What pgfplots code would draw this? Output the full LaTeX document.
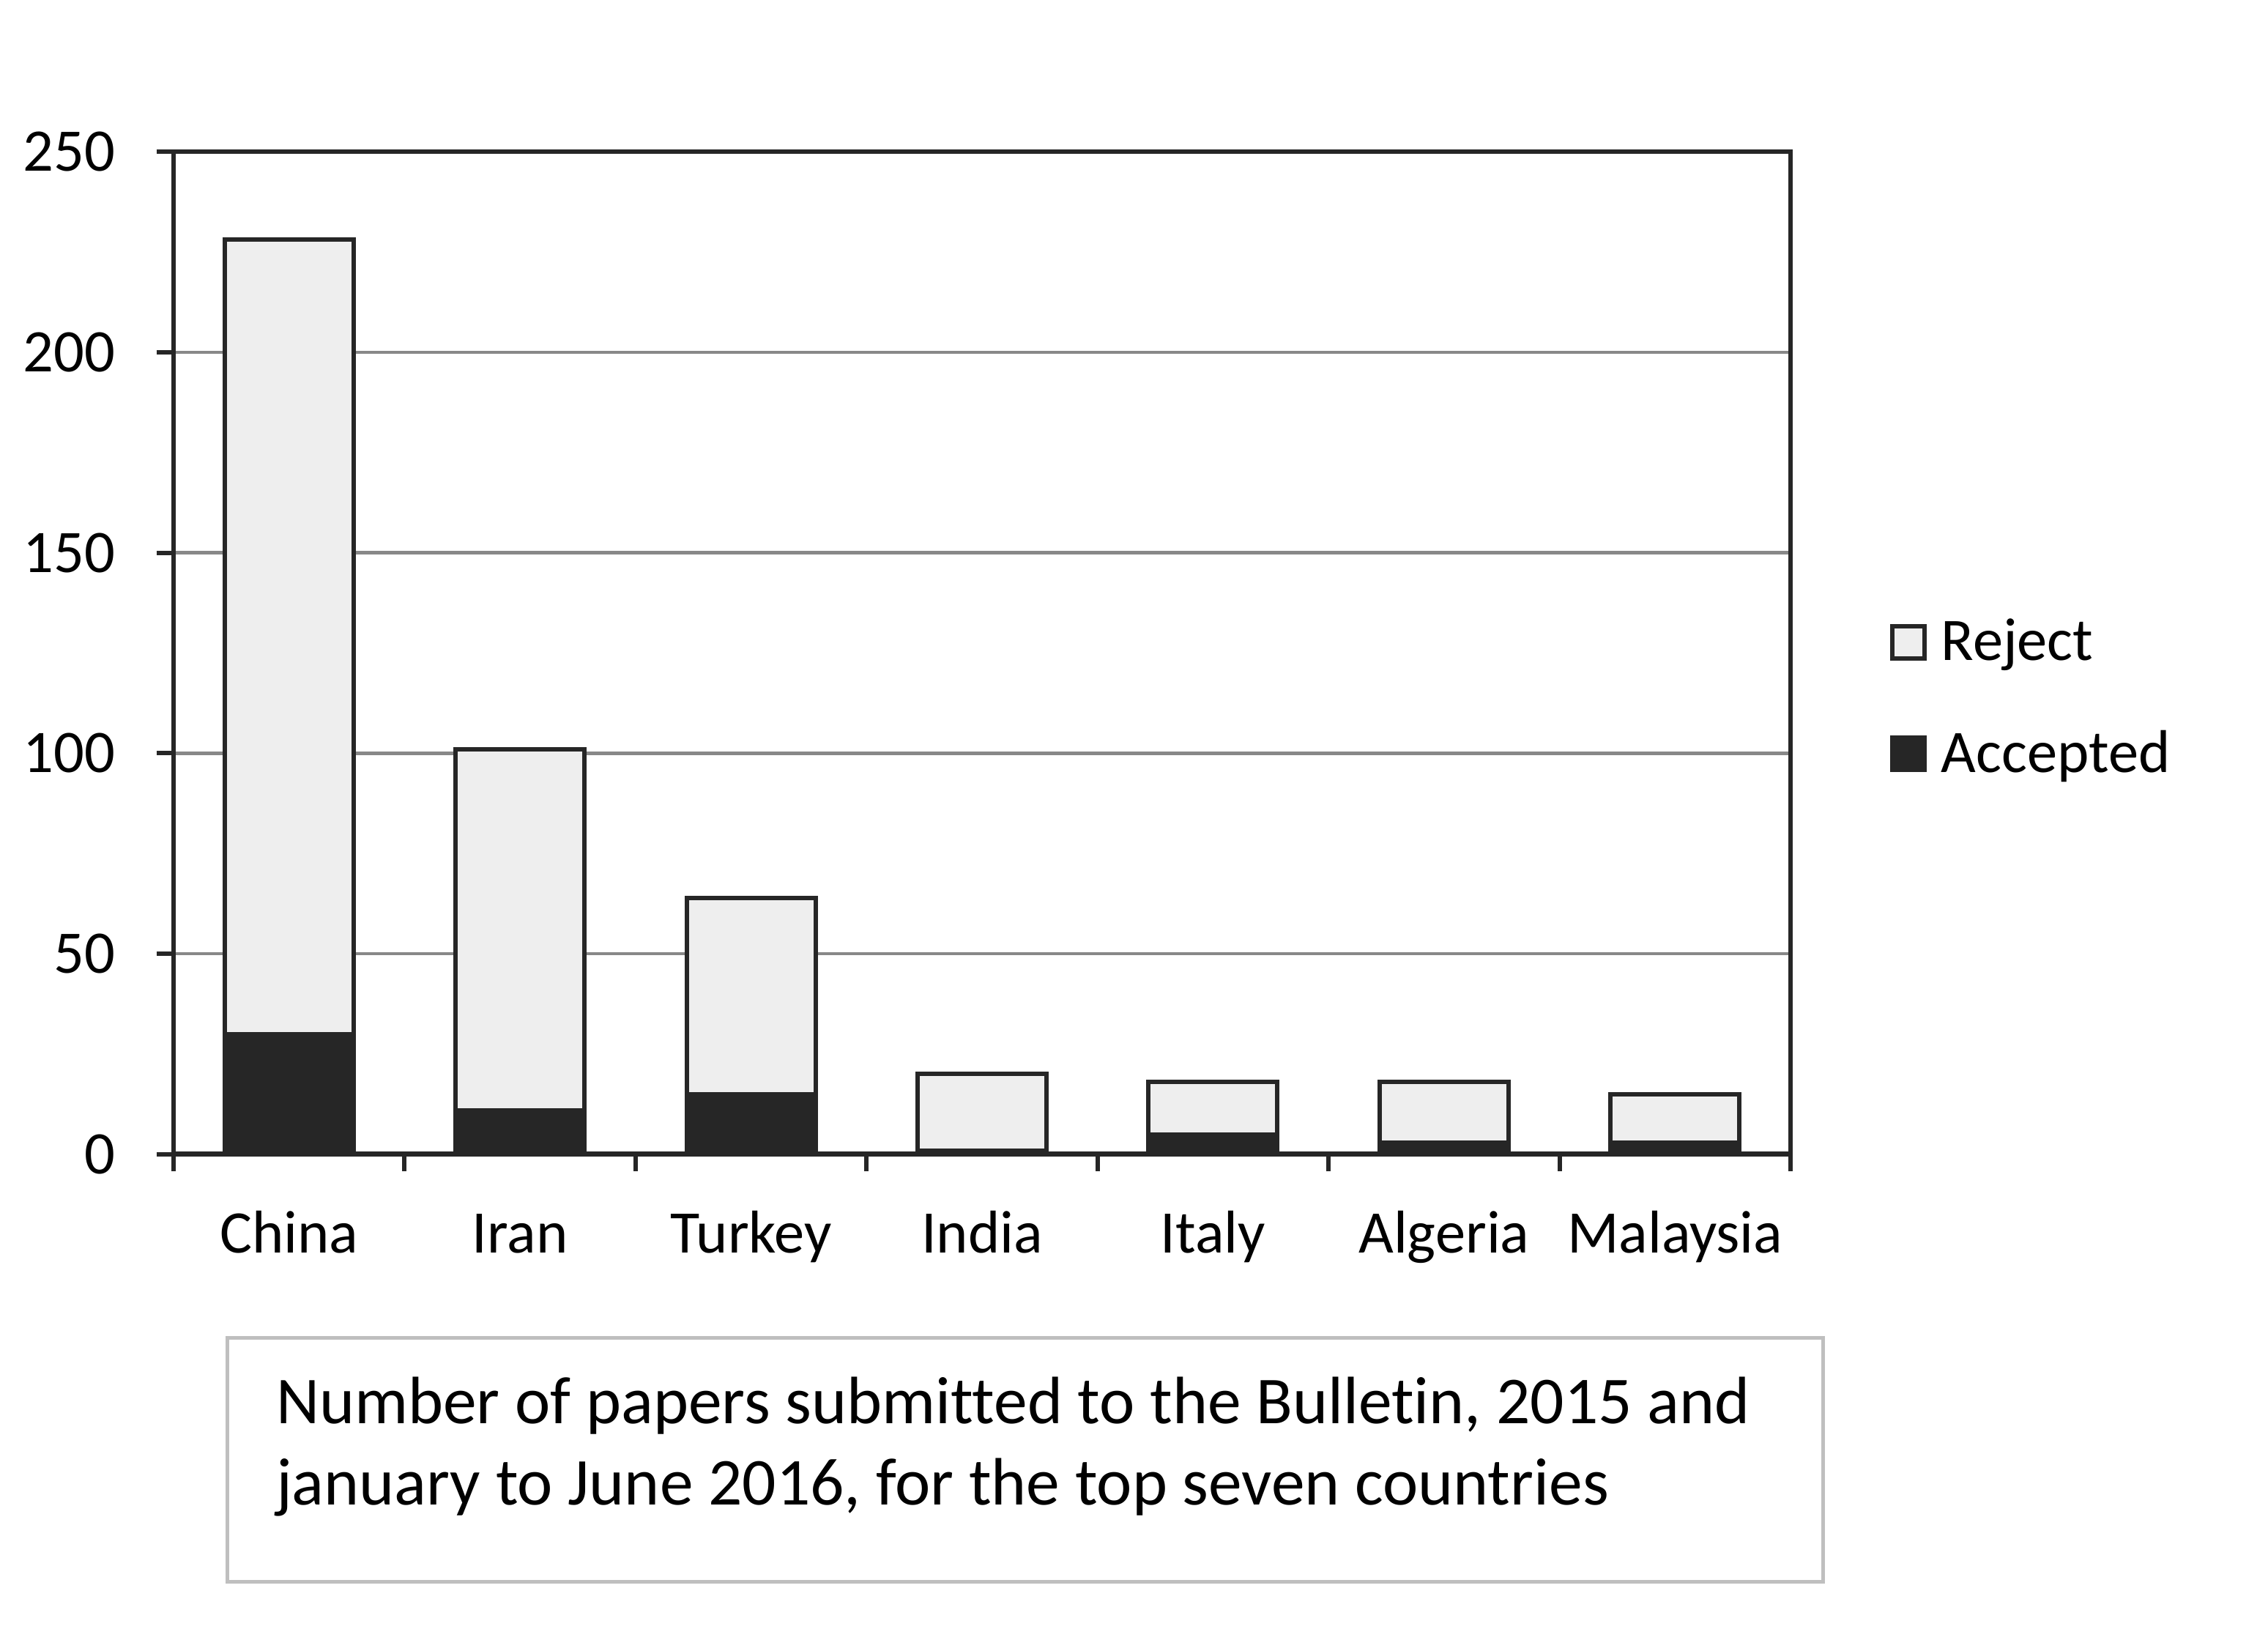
\documentclass[border=0pt]{standalone}
\usepackage{pgfplots}
\pgfplotsset{compat=1.18}
\usepackage{fontspec}
\setmainfont{Carlito}[Ligatures=NoCommon]
\definecolor{dark}{HTML}{262626}
\definecolor{gridgray}{HTML}{888888}
\definecolor{rejfill}{HTML}{EEEEEE}
\definecolor{boxgray}{HTML}{BFBFBF}
\begin{document}
\begin{tikzpicture}
\useasboundingbox (0,0) rectangle (619.4pt,450.6pt);
\begin{axis}[
  at={(47.4pt,135.4pt)}, anchor=south west,
  scale only axis, width=441.6pt, height=273.8pt,
  ybar stacked, bar width=35.2pt,
  xmin=-0.5, xmax=6.5, ymin=0, ymax=250,
  xtick={-0.5,0.5,...,6.5},
  x tick label as interval,
  xticklabels={China,Iran,Turkey,India,Italy,Algeria,Malaysia},
  ytick={0,50,...,250},
  tick align=outside, xtick pos=bottom, ytick pos=left,
  major tick length=4.6pt,
  tick style={dark, line width=1.2pt},
  axis line style={dark, line width=1.2pt},
  ymajorgrids, grid style={gridgray, line width=0.9pt},
  ticklabel style={font=\fontsize{16.5}{19}\selectfont},
  yticklabel style={xshift=-7.9pt},
  xticklabel style={yshift=-11.5pt, text height=0.72em, text depth=0.22em},
  /pgf/number format/assume math mode=true,
  reverse legend,
  legend cell align=left,
  legend style={at={(1.061,0.455)}, anchor=west, draw=none, fill=none,
    font=\fontsize{16.5}{19}\selectfont, inner sep=0pt, row sep=13.6pt,
    /tikz/every odd column/.append style={column sep=2pt}},
  legend image code/.code={\draw[#1, line width=1.2pt] (0pt,-4.4pt) rectangle (8.8pt,4.4pt);},
]
\addplot[fill=dark, draw=dark, line width=1.2pt] coordinates {(0,30) (1,11) (2,15) (3,1) (4,5) (5,3) (6,3)};
\addlegendentry{Accepted}
\addplot[fill=rejfill, draw=dark, line width=1.2pt] coordinates {(0,198) (1,90) (2,49) (3,19) (4,13) (5,15) (6,12)};
\addlegendentry{Reject}
\draw[dark, line width=1.7pt] (axis cs:-0.5,0) -- (axis cs:6.5,0);
\end{axis}
\draw[boxgray, line width=1pt] (62pt,18.8pt) rectangle (497.8pt,85.2pt);
\node[anchor=base west, inner sep=0pt, font=\fontsize{18.3}{22.4}\selectfont] at (75.2pt,62pt) {Number of papers submitted to the Bulletin, 2015 and};
\node[anchor=base west, inner sep=0pt, font=\fontsize{18.3}{22.4}\selectfont] at (75.2pt,39.6pt) {january to June 2016, for the top seven countries};
\end{tikzpicture}
\end{document}
